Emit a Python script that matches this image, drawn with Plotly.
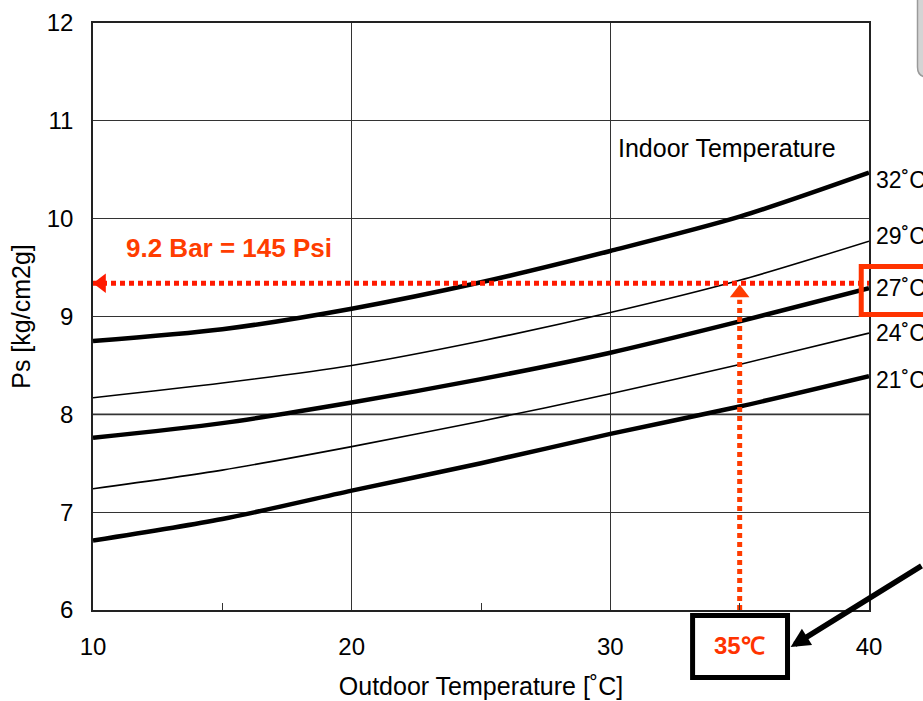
import plotly.graph_objects as go

# ---------------- data ----------------
outdoor_temp = [10, 15, 20, 25, 30, 35, 40]
indoor_labels = ["32˚C", "29˚C", "27˚C", "24˚C", "21˚C"]
ps_32 = [8.75, 8.87, 9.08, 9.35, 9.67, 10.02, 10.47]
ps_29 = [8.17, 8.32, 8.50, 8.75, 9.04, 9.37, 9.77]
ps_27 = [7.76, 7.91, 8.12, 8.36, 8.63, 8.95, 9.29]
ps_24 = [7.24, 7.43, 7.67, 7.93, 8.21, 8.51, 8.83]
ps_21 = [6.71, 6.93, 7.22, 7.50, 7.80, 8.08, 8.39]
series = [ps_32, ps_29, ps_27, ps_24, ps_21]
widths = [4.5, 1.6, 4.5, 1.6, 4.5]
label_yshift = [-7, 5, 0, 0, -4]

read_outdoor = 35      # reading at 35 ℃ outdoor
read_ps = 9.34         # resulting suction pressure
x_ticks = [10, 20, 30, 40]
y_ticks = [6, 7, 8, 9, 10, 11, 12]
X_RANGE = [10, 40]
Y_RANGE = [6, 12]

FONT = "Liberation Sans, Arial, sans-serif"
RED_H = "#FF1A00"
RED_V = "#FF3C00"

def xp(v):  # data x -> paper
    return (v - X_RANGE[0]) / (X_RANGE[1] - X_RANGE[0])

def yp(v):  # data y -> paper
    return (v - Y_RANGE[0]) / (Y_RANGE[1] - Y_RANGE[0])

fig = go.Figure()

for vals, w in zip(series, widths):
    fig.add_trace(go.Scatter(
        x=outdoor_temp, y=vals, mode="lines",
        line=dict(color="black", width=w, shape="spline", smoothing=0.8),
        hoverinfo="skip", showlegend=False))

# red dotted reading lines
fig.add_trace(go.Scatter(
    x=[X_RANGE[0], X_RANGE[1]], y=[read_ps, read_ps], mode="lines",
    line=dict(color=RED_H, width=5, dash="5px,4px"),
    hoverinfo="skip", showlegend=False))
fig.add_trace(go.Scatter(
    x=[read_outdoor, read_outdoor], y=[Y_RANGE[0], read_ps - 0.17], mode="lines",
    line=dict(color=RED_V, width=5, dash="5px,4px"),
    hoverinfo="skip", showlegend=False))
# arrow heads
fig.add_trace(go.Scatter(
    x=[X_RANGE[0] + 0.33], y=[read_ps], mode="markers",
    marker=dict(symbol="triangle-left", size=17, color=RED_H, line=dict(width=0)),
    cliponaxis=False, hoverinfo="skip", showlegend=False))
fig.add_trace(go.Scatter(
    x=[read_outdoor], y=[read_ps - 0.1], mode="markers",
    marker=dict(symbol="triangle-up", size=17, color=RED_V, line=dict(width=0)),
    cliponaxis=False, hoverinfo="skip", showlegend=False))

shapes = [
    # grey 8.0 line
    dict(type="line", xref="x", yref="y", x0=X_RANGE[0], x1=X_RANGE[1], y0=8, y1=8,
         line=dict(color="#9a9a9a", width=2.5), layer="below"),
    # red highlight box around 27˚C label
    dict(type="rect", xref="paper", yref="paper",
         x0=xp(39.7), x1=xp(43.3), y0=yp(9.02), y1=yp(9.51),
         line=dict(color="#FF3300", width=5), fillcolor="rgba(0,0,0,0)"),
    # black box for 35℃
    dict(type="rect", xref="paper", yref="paper",
         x0=xp(33.18), x1=xp(36.85), y0=-0.0095, y1=-0.115,
         line=dict(color="black", width=5), fillcolor="white"),
    # grey fragment top right
    dict(type="path", xref="paper", yref="paper",
         path="M 1.0625,1.05 L 1.0625,0.925 Q 1.0625,0.908 1.075,0.908 L 1.2,0.908 L 1.2,1.05 Z",
         line=dict(color="#9a9a9a", width=1.5), fillcolor="#d4d4d4"),
]

annotations = []
for lab, vals, ys in zip(indoor_labels, series, label_yshift):
    annotations.append(dict(
        x=X_RANGE[1], y=vals[-1], xref="x", yref="y", text=lab, showarrow=False,
        xanchor="left", yanchor="middle", xshift=5, yshift=ys,
        font=dict(family=FONT, size=23, color="black")))

annotations += [
    dict(x=30.22, y=10.72, xref="x", yref="y", text="Indoor Temperature", showarrow=False,
         xanchor="left", yanchor="middle", font=dict(family=FONT, size=25, color="black")),
    dict(x=15.26, y=9.70, xref="x", yref="y", text="<b>9.2 Bar = 145 Psi</b>", showarrow=False,
         xanchor="center", yanchor="middle", font=dict(family=FONT, size=26, color="#FF3D00")),
    dict(x=read_outdoor, y=-0.060, xref="x", yref="paper", text="<b>35℃</b>", showarrow=False,
         xanchor="center", yanchor="middle", font=dict(family=FONT, size=24, color="#FF3300")),
    # black arrow pointing to the 35℃ box
    dict(x=xp(36.97), y=-0.063, xref="paper", yref="paper", text="", showarrow=True,
         ax=170, ay=-82, arrowhead=2, arrowsize=0.7, arrowwidth=5.5, arrowcolor="black",
         standoff=0),
]

fig.update_layout(
    width=923, height=701,
    margin=dict(l=93, r=54, t=23, b=91, autoexpand=False),
    paper_bgcolor="white", plot_bgcolor="white",
    font=dict(family=FONT, size=23, color="black"),
    showlegend=False,
    shapes=shapes, annotations=annotations,
    xaxis=dict(range=X_RANGE, tickvals=x_ticks, ticktext=[str(v) for v in x_ticks],
               showgrid=True, gridcolor="#333333", gridwidth=1.2,
               showline=True, linecolor="#222222", linewidth=1.5, mirror=True,
               ticks="", ticklabelstandoff=14, zeroline=False, automargin=False,
               tickfont=dict(family=FONT, size=24),
               minor=dict(tickvals=[15, 25, 35], ticks="inside", ticklen=7,
                          tickcolor="#333333", tickwidth=1.2, showgrid=False),
               title=dict(text="Outdoor Temperature [˚C]", standoff=19,
                          font=dict(family=FONT, size=25))),
    yaxis=dict(range=Y_RANGE, tickvals=y_ticks, ticktext=[str(v) for v in y_ticks],
               showgrid=True, gridcolor="#333333", gridwidth=1.2,
               showline=True, linecolor="#222222", linewidth=1.5, mirror=True,
               ticks="", ticklabelstandoff=13, zeroline=False, automargin=False,
               tickfont=dict(family=FONT, size=24),
               title=dict(text="Ps [kg/cm2g]", standoff=9,
                          font=dict(family=FONT, size=25))),
)

fig.write_html("out.html")
